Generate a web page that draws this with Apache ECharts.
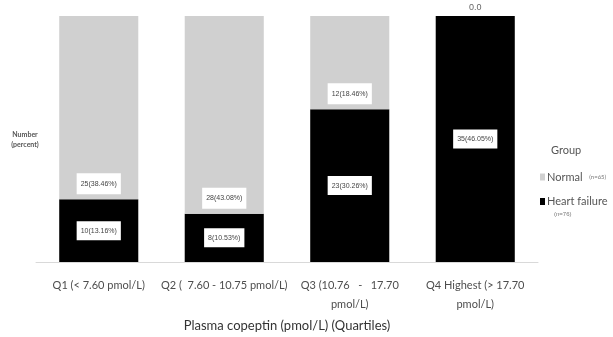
<!DOCTYPE html>
<html>
<head>
<meta charset="utf-8">
<script src="https://cdn.jsdelivr.net/npm/echarts@6/dist/echarts.min.js"></script>
<style>html,body{margin:0;padding:0;background:#fff;}#c{width:613px;height:337px;}</style>
</head>
<body>
<div id="c"></div>
<script>
const categories = ['Q1 (< 7.60 pmol/L)', 'Q2 (  7.60 - 10.75 pmol/L)', 'Q3 (10.76   -   17.70\npmol/L)', 'Q4 Highest (> 17.70\npmol/L)'];
const normalCounts = [25, 28, 12, 0];
const normalPct = [38.46, 43.08, 18.46, 0.0];
const hfCounts = [10, 8, 23, 35];
const hfPct = [13.16, 10.53, 30.26, 46.05];
const normalLabels = ['25(38.46%)', '28(43.08%)', '12(18.46%)', '0.0'];
const hfLabels = ['10(13.16%)', '8(10.53%)', '23(30.26%)', '35(46.05%)'];

// 100% stacked shares per quartile
const hfShare = hfPct.map((v, i) => v / (v + normalPct[i]));
const normalShare = normalPct.map((v, i) => v / (v + hfPct[i]));

const GRAY = '#d0d0d0';
const boxLabel = {
  show: true, backgroundColor: '#fff', padding: [7, 4], color: '#444',
  fontSize: 7, fontFamily: 'Liberation Sans'
};

const chart = echarts.init(document.getElementById('c'));
chart.setOption({
  animation: false,
  grid: { left: 36, right: 75, top: 16, bottom: 73 },
  title: {
    text: 'Group', left: 546, top: 140,
    textStyle: { fontSize: 11, fontWeight: 'normal', color: '#555', fontFamily: 'Lato' }
  },
  legend: {
    orient: 'vertical', left: 535, top: 166, itemWidth: 5, itemHeight: 7, itemGap: 13,
    icon: 'rect', selectedMode: false,
    data: ['Normal', 'Heart failure'],
    formatter: n => n === 'Normal' ? '{a|Normal}  {s|(n=65)}' : '{a|Heart failure}',
    textStyle: {
      padding: [0, 0, 0, -3],
      rich: {
        a: { fontSize: 11, color: '#555', fontFamily: 'Lato' },
        s: { fontSize: 6, color: '#777', fontFamily: 'Lato' }
      }
    }
  },
  graphic: [
    { type: 'text', left: 554, top: 211, style: { text: '(n=76)', fontSize: 6, fill: '#777', font: '6px Lato' } },
    { type: 'text', x: 25, y: 140, style: { text: 'Number\n(percent)', textAlign: 'center', textVerticalAlign: 'middle', font: 'bold 7px Lato', fill: '#555', lineHeight: 10 } }
  ],
  xAxis: {
    type: 'category', data: categories,
    name: 'Plasma copeptin (pmol/L) (Quartiles)', nameLocation: 'middle', nameGap: 57,
    nameTextStyle: { fontSize: 13, color: '#333', fontFamily: 'Lato' },
    axisLine: { lineStyle: { color: '#d9d9d9' } },
    axisTick: { show: false },
    axisLabel: { fontSize: 11, color: '#4d4d4d', fontFamily: 'Lato', margin: 14, lineHeight: 19, interval: 0 }
  },
  yAxis: {
    type: 'value', min: 0, max: 1,
    axisLabel: { show: false }, axisLine: { show: false }, axisTick: { show: false }, splitLine: { show: false }
  },
  series: [
    {
      name: 'Heart failure', type: 'bar', stack: 'g', barWidth: '63%',
      itemStyle: { color: '#000' },
      data: hfShare,
      label: Object.assign({}, boxLabel, { position: 'inside', padding: [6, 4], formatter: p => hfLabels[p.dataIndex] })
    },
    {
      name: 'Normal', type: 'bar', stack: 'g', barWidth: '63%',
      itemStyle: { color: GRAY },
      data: normalShare.map((v, i) => v === 0
        ? { value: v, label: { position: 'top', distance: 4, backgroundColor: 'transparent', padding: 0, fontSize: 9, color: '#666' } }
        : v),
      label: Object.assign({}, boxLabel, { position: 'insideBottom', distance: 5, formatter: p => normalLabels[p.dataIndex] })
    }
  ]
});
</script>
</body>
</html>
